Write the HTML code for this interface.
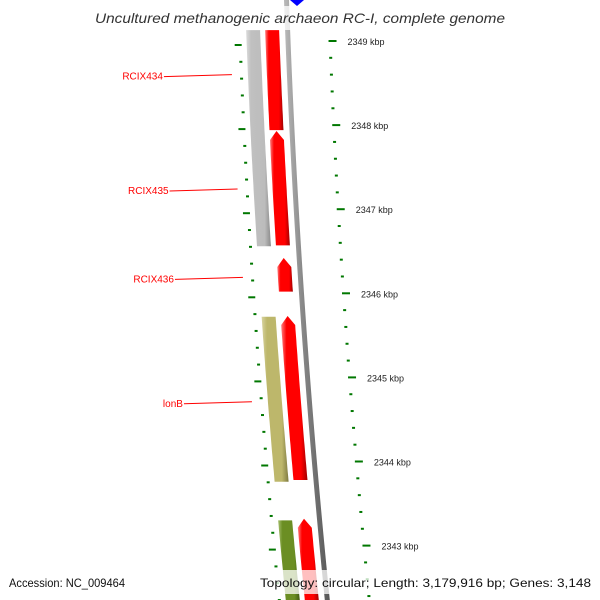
<!DOCTYPE html>
<html><head><meta charset="utf-8">
<style>
html,body{margin:0;padding:0;background:#fff;}
svg{display:block;font-family:"Liberation Sans","DejaVu Sans",sans-serif;}
</style></head>
<body>
<svg id="chart" width="600" height="600" viewBox="0 0 600 600" xmlns="http://www.w3.org/2000/svg">
<defs>
<linearGradient id="gRed" x1="0" y1="0" x2="1" y2="0">
<stop offset="0" stop-color="#ff8080"/><stop offset="0.2" stop-color="#ff0000"/><stop offset="0.75" stop-color="#ff0000"/><stop offset="1" stop-color="#a00000"/></linearGradient>
<linearGradient id="gGray" x1="0" y1="0" x2="1" y2="0">
<stop offset="0" stop-color="#dcdcdc"/><stop offset="0.2" stop-color="#c0c0c0"/><stop offset="0.75" stop-color="#bcbcbc"/><stop offset="1" stop-color="#8a8a8a"/></linearGradient>
<linearGradient id="gKhaki" x1="0" y1="0" x2="1" y2="0">
<stop offset="0" stop-color="#d8d4a0"/><stop offset="0.2" stop-color="#bdb76b"/><stop offset="0.75" stop-color="#bdb76b"/><stop offset="1" stop-color="#7e7a40"/></linearGradient>
<linearGradient id="gGreen" x1="0" y1="0" x2="1" y2="0">
<stop offset="0" stop-color="#a8c070"/><stop offset="0.2" stop-color="#6b8e23"/><stop offset="0.75" stop-color="#6b8e23"/><stop offset="1" stop-color="#405a10"/></linearGradient>
<linearGradient id="gBack" x1="0" y1="0" x2="1" y2="0">
<stop offset="0" stop-color="#bbbbbb"/><stop offset="0.4" stop-color="#888888"/><stop offset="1" stop-color="#555555"/></linearGradient>
</defs>
<g id="layer"></g>
<rect x="0" y="6" width="600" height="24" fill="#fff" fill-opacity="0.75"/>
<text x="95" y="23" textLength="410" lengthAdjust="spacingAndGlyphs" font-size="14" font-style="italic" fill="#333">Uncultured methanogenic archaeon RC-I, complete genome</text>
<rect x="0" y="570" width="600" height="24" fill="#fff" fill-opacity="0.75"/>
<text x="9" y="587" textLength="116" lengthAdjust="spacingAndGlyphs" font-size="12" fill="#111">Accession: NC_009464</text>
<text x="260" y="587" textLength="331" lengthAdjust="spacingAndGlyphs" font-size="12" fill="#111">Topology: circular; Length: 3,179,916 bp; Genes: 3,148</text>
</svg>
<script>
// data (kbp positions)
const featStrand1Start = [2349.13, 2347.93, 2346.42, 2345.73, 2343.32];
const featStrand1End   = [2347.94, 2346.57, 2346.02, 2343.78, 2342.35];
const featStrand2Start = [2349.13, 2345.72, 2343.30];
const featStrand2End   = [2346.56, 2343.76, 2342.35];
const featStrand2Color = ['url(#gGray)','url(#gKhaki)','url(#gGreen)'];
const majorTicks = [2349, 2348, 2347, 2346, 2345, 2344, 2343];
const tickLabels = ['2349 kbp','2348 kbp','2347 kbp','2346 kbp','2345 kbp','2344 kbp','2343 kbp'];
const geneLabels = ['RCIX434','RCIX435','RCIX436','lonB'];
const geneLabelPos = [2348.60, 2347.24, 2346.19, 2344.71];

const NS='http://www.w3.org/2000/svg';
const layer=document.getElementById('layer');
function yOf(kbp){return 41 + (2349-kbp)*84.1;}
function xAt(off,y){return 286 + 0.035*y + 0.000055*y*y + off;}
function mk(tag,attrs,parent){const e=document.createElementNS(NS,tag);for(const k in attrs)e.setAttribute(k,attrs[k]);(parent||layer).appendChild(e);return e;}

// backbone
const bb=[];for(let y=-5;y<=605;y+=10)bb.push([xAt(-2,y),y]);
const bb2=[];for(let y=605;y>=-5;y-=10)bb2.push([xAt(3,y),y]);
const back=mk('polygon',{points:bb.concat(bb2).map(p=>p.join(',')).join(' '),fill:'url(#gBack)'});



function band(y1,y2,o1,o2,fill,arrowTop,name){
  const pts=[];const hs=9;
  const ya=arrowTop?y1+hs:y1;
  for(let y=ya;y<=y2;y+=5)pts.push([xAt(o1,y),y]);
  pts.push([xAt(o1,y2),y2]);pts.push([xAt(o2,y2),y2]);
  for(let y=y2;y>=ya;y-=5)pts.push([xAt(o2,y),y]);
  pts.push([xAt(o2,ya),ya]);
  if(arrowTop)pts.push([xAt((o1+o2)/2,y1),y1]);
  const p=mk('polygon',{points:pts.map(q=>q[0].toFixed(1)+','+q[1].toFixed(1)).join(' '),fill:fill});
  
  
}
for(let i=0;i<featStrand2Start.length;i++){
  band(Math.max(yOf(featStrand2Start[i]),30),yOf(featStrand2End[i]),-41,-27,featStrand2Color[i],false,'feature-strand2-'+i);
}
for(let i=0;i<featStrand1Start.length;i++){
  band(Math.max(yOf(featStrand1Start[i]),30),yOf(featStrand1End[i]),-22,-8,'url(#gRed)',i>0,'feature-strand1-'+i);
}
// blue marker
const dm=mk('polygon',{points:'290,0 297,6 304,0 297,-6',fill:'#0000ff'});



// ticks
for(let k=0;k<majorTicks.length;k++){
  for(let j=0;j<5;j++){
    const kb=majorTicks[k]-j*0.2;
    const y=yOf(kb);
    if(y>600)continue;
    const maj=j===0;
    const yi=y+4;
    const ti=mk('line',{x1:xAt(maj?-53:-49,yi),y1:yi,x2:xAt(-46,yi),y2:yi,stroke:'#007700','stroke-width':2});
    
    
    const to=mk('line',{x1:xAt(41,y),y1:y,x2:xAt(maj?49:44,y),y2:y,stroke:'#007700','stroke-width':2});
    
    
    if(maj){
      const t=mk('text',{x:xAt(60,y),y:y+4,'font-size':9,fill:'#222'});
      t.textContent=tickLabels[k];
      
      
    }
  }
}
// gene labels
for(let i=0;i<geneLabels.length;i++){
  const y=yOf(geneLabelPos[i]);
  const x2=xAt(-57,y);
  const l=mk('line',{x1:x2-68,y1:y+2,x2:x2,y2:y,stroke:'#ff0000','stroke-width':1});
  
  
  const t=mk('text',{x:x2-69,y:y+5,'font-size':10,fill:'#ff0000','text-anchor':'end'});
  t.textContent=geneLabels[i];
  
  
}
</script>
</body></html>
